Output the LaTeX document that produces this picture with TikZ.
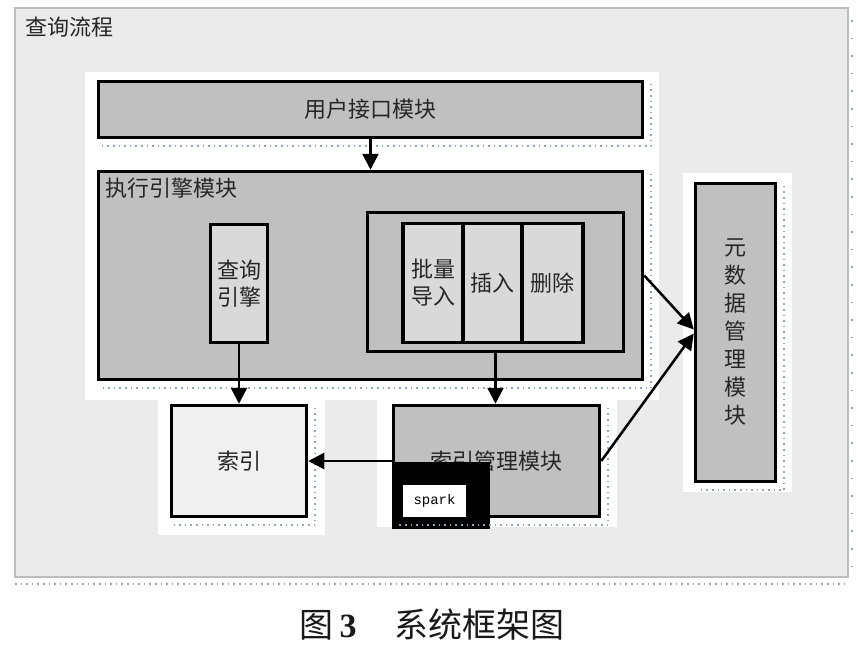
\documentclass[tikz,border=0pt]{standalone}
\usepackage{fontspec}
\setmainfont{Liberation Serif}
\setmonofont{Liberation Mono}
\newfontfamily\cjk{Noto Sans CJK SC}
\usetikzlibrary{arrows.meta}
\definecolor{modgray}{HTML}{C0C0C0}
\definecolor{subgray}{HTML}{D9D9D9}
\definecolor{idxgray}{HTML}{F0F0F0}
\definecolor{bggray}{HTML}{EBEBEB}
\definecolor{framegray}{HTML}{BDBDBD}
\definecolor{dotblue}{HTML}{8FA5BD}
\tikzset{
  module/.style={draw=black,line width=3.5pt,fill=modgray,inner sep=0pt,
    font=\cjk\fontsize{22}{27}\selectfont,text=black!85,align=center},
  submodule/.style={module,fill=subgray},
  flow/.style={line width=2.5pt,-{Triangle[length=16pt,width=16pt]}},
  shadowdots/.style={draw=dotblue,line width=1.6pt,dash pattern=on 1.6pt off 4pt},
  label/.style={font=\cjk\fontsize{22}{24}\selectfont,text=black!85,inner sep=0pt}
}
\begin{document}
\begin{tikzpicture}[x=1pt,y=-1pt]
\useasboundingbox (0,0) rectangle (864,661);
% background
\filldraw[fill=bggray,draw=framegray,line width=2pt] (15,8) rectangle (848,577);
\draw[shadowdots] (15,584) -- (848,584);
\draw[shadowdots,dash pattern=on 1.6pt off 16pt] (852,20) -- (852,577);
\fill[white] (85,72) rectangle (659,400);
\fill[white] (158,393) rectangle (325,535);
\fill[white] (377,393) rectangle (617,527);
\fill[white] (683,173) rectangle (792,492);
\node[label,anchor=west] (title) at (25,27) {查询流程};
% modules
\node[module,minimum width=544pt,minimum height=56pt] (ui) at (370.5,109.5) {用户接口模块};
\node[module,minimum width=544pt,minimum height=208pt] (exec) at (370.5,275.5) {};
\node[label,anchor=west] (execlbl) at (105,188) {执行引擎模块};
\node[submodule,minimum width=57pt,minimum height=118pt] (qe) at (239,283.5) {查询\\引擎};
\node[module,minimum width=256pt,minimum height=139pt] (grp) at (495.5,282) {};
\node[submodule,minimum width=60pt,minimum height=119pt] (bulk) at (433,283) {批量\\导入};
\node[submodule,minimum width=59pt,minimum height=119pt] (ins) at (492.5,283) {插入};
\node[submodule,minimum width=61pt,minimum height=119pt] (del) at (552.5,283) {删除};
\node[module,fill=idxgray,minimum width=135pt,minimum height=111pt] (idx) at (239,461) {索引};
\node[module,minimum width=206pt,minimum height=111pt] (im) at (496.5,461) {索引管理模块};
\node[fill=black,minimum width=98pt,minimum height=67pt,inner sep=0pt] (sparkbg) at (441,495.5) {};
\node[fill=white,minimum width=63pt,minimum height=32pt,inner sep=0pt,
  font=\ttfamily\fontsize{14}{14}\selectfont] (spark) at (434.5,501) {spark};
\node[module,minimum width=80pt,minimum height=298pt,font=\cjk\fontsize{22}{28}\selectfont] (meta) at (735.5,332.5)
  {元\\数\\据\\管\\理\\模\\块};
% dotted shadows
\foreach \n in {ui,exec,idx,im,meta}
  \draw[shadowdots] ([xshift=7pt,yshift=-4pt]\n.north east) -- ([xshift=7pt,yshift=-7pt]\n.south east) -- ([xshift=4pt,yshift=-7pt]\n.south west);
% connectors
\draw[flow] (ui) -- (exec);
\draw[flow] (qe) -- (idx);
\draw[flow] (grp.south) -- (grp.south |- im.north);
\draw[flow] (im.west) -- (idx.east);
\draw[flow] (exec.east) -- ([yshift=3pt]meta.west);
\draw[flow] (im.east) -- ([yshift=-1pt]meta.west);
% caption
\node[font=\cjk\fontsize{34}{34}\selectfont,text=black!90] (caption) at (432,625)
  {图\,{\rmfamily\bfseries 3}\hspace{1.1em}系统框架图};
\end{tikzpicture}
\end{document}
